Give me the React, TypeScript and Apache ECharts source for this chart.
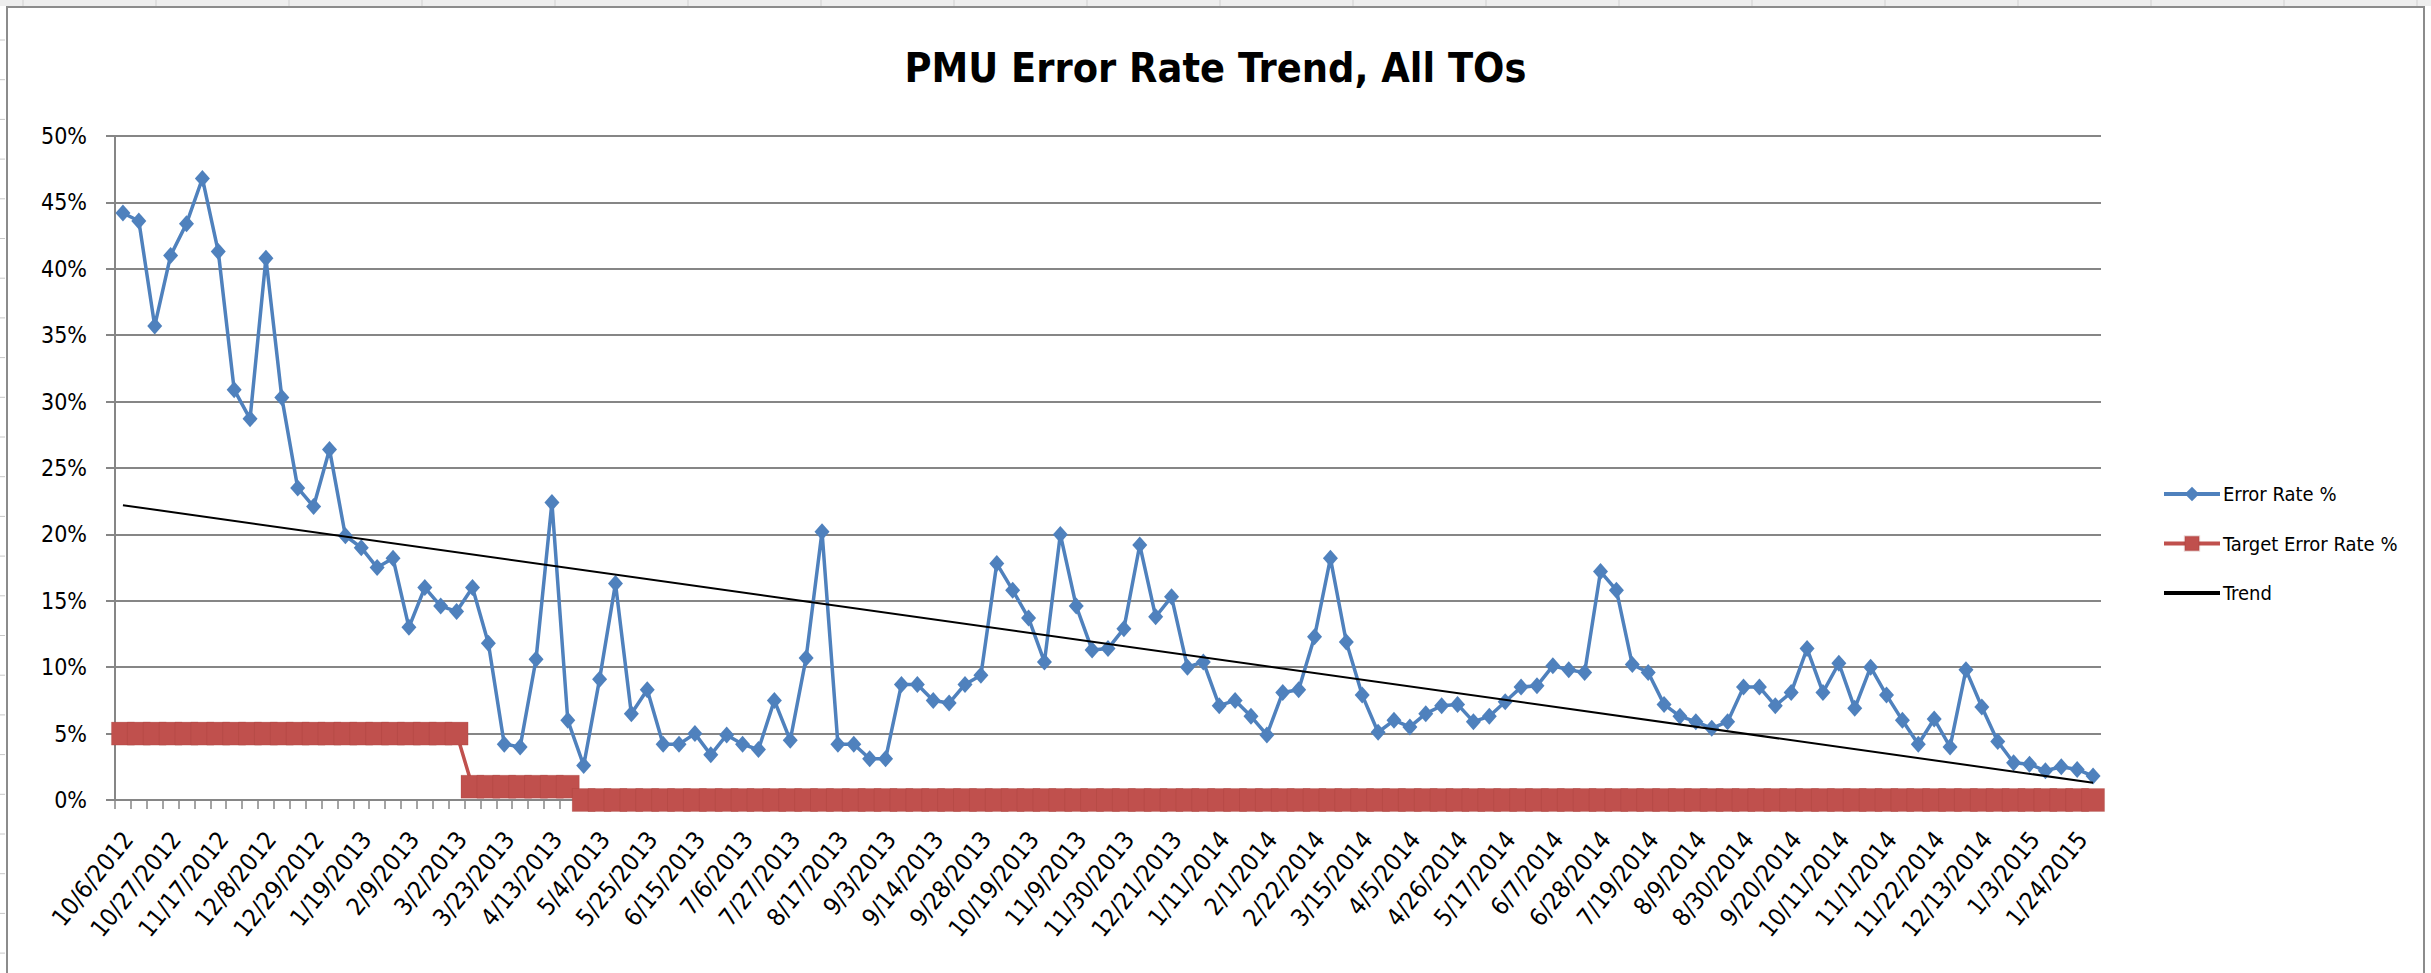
import React, { useEffect, useRef } from "react";
import * as echarts from "echarts";

const categories: string[] = [
  "10/6/2012", "10/13/2012", "10/20/2012", "10/27/2012", "11/3/2012", "11/10/2012", "11/17/2012", "11/24/2012",
  "12/1/2012", "12/8/2012", "12/15/2012", "12/22/2012", "12/29/2012", "1/5/2013", "1/12/2013", "1/19/2013",
  "1/26/2013", "2/2/2013", "2/9/2013", "2/16/2013", "2/23/2013", "3/2/2013", "3/9/2013", "3/16/2013",
  "3/23/2013", "3/30/2013", "4/6/2013", "4/13/2013", "4/20/2013", "4/27/2013", "5/4/2013", "5/11/2013",
  "5/18/2013", "5/25/2013", "6/1/2013", "6/8/2013", "6/15/2013", "6/22/2013", "6/29/2013", "7/6/2013",
  "7/13/2013", "7/20/2013", "7/27/2013", "8/3/2013", "8/10/2013", "8/17/2013", "8/24/2013", "8/31/2013",
  "9/3/2013", "9/7/2013", "9/10/2013", "9/14/2013", "9/21/2013", "9/24/2013", "9/28/2013", "10/5/2013",
  "10/12/2013", "10/19/2013", "10/26/2013", "11/2/2013", "11/9/2013", "11/16/2013", "11/23/2013", "11/30/2013",
  "12/7/2013", "12/14/2013", "12/21/2013", "12/28/2013", "1/4/2014", "1/11/2014", "1/18/2014", "1/25/2014",
  "2/1/2014", "2/8/2014", "2/15/2014", "2/22/2014", "3/1/2014", "3/8/2014", "3/15/2014", "3/22/2014",
  "3/29/2014", "4/5/2014", "4/12/2014", "4/19/2014", "4/26/2014", "5/3/2014", "5/10/2014", "5/17/2014",
  "5/24/2014", "5/31/2014", "6/7/2014", "6/14/2014", "6/21/2014", "6/28/2014", "7/5/2014", "7/12/2014",
  "7/19/2014", "7/26/2014", "8/2/2014", "8/9/2014", "8/16/2014", "8/23/2014", "8/30/2014", "9/6/2014",
  "9/13/2014", "9/20/2014", "9/27/2014", "10/4/2014", "10/11/2014", "10/18/2014", "10/25/2014", "11/1/2014",
  "11/8/2014", "11/15/2014", "11/22/2014", "11/29/2014", "12/6/2014", "12/13/2014", "12/20/2014", "12/27/2014",
  "1/3/2015", "1/10/2015", "1/17/2015", "1/24/2015", "1/31/2015",
];

const errorRate: number[] = [
  44.2, 43.6, 35.7, 41.0, 43.4, 46.8, 41.3, 30.9, 28.7, 40.8,
  30.3, 23.5, 22.1, 26.4, 19.9, 19.0, 17.5, 18.2, 13.0, 16.0,
  14.6, 14.2, 16.0, 11.8, 4.2, 4.0, 10.6, 22.4, 6.0, 2.6,
  9.1, 16.3, 6.5, 8.3, 4.2, 4.2, 5.0, 3.4, 4.9, 4.2,
  3.8, 7.5, 4.5, 10.7, 20.2, 4.2, 4.2, 3.1, 3.1, 8.7,
  8.7, 7.5, 7.3, 8.7, 9.4, 17.8, 15.8, 13.7, 10.4, 20.0,
  14.6, 11.3, 11.4, 12.9, 19.2, 13.8, 15.3, 10.0, 10.4, 7.1,
  7.5, 6.3, 4.9, 8.1, 8.3, 12.3, 18.2, 11.9, 7.9, 5.1,
  6.0, 5.5, 6.5, 7.1, 7.2, 5.9, 6.3, 7.4, 8.5, 8.6,
  10.1, 9.8, 9.6, 17.2, 15.8, 10.2, 9.6, 7.2, 6.3, 5.9,
  5.4, 5.9, 8.5, 8.5, 7.1, 8.1, 11.4, 8.1, 10.3, 6.9,
  10.0, 7.9, 6.0, 4.2, 6.1, 4.0, 9.8, 7.0, 4.4, 2.8,
  2.7, 2.2, 2.5, 2.3, 1.8,
];

const targetRate: number[] = [
  5, 5, 5, 5, 5, 5, 5, 5, 5, 5,
  5, 5, 5, 5, 5, 5, 5, 5, 5, 5,
  5, 5, 1, 1, 1, 1, 1, 1, 1, 0,
  0, 0, 0, 0, 0, 0, 0, 0, 0, 0,
  0, 0, 0, 0, 0, 0, 0, 0, 0, 0,
  0, 0, 0, 0, 0, 0, 0, 0, 0, 0,
  0, 0, 0, 0, 0, 0, 0, 0, 0, 0,
  0, 0, 0, 0, 0, 0, 0, 0, 0, 0,
  0, 0, 0, 0, 0, 0, 0, 0, 0, 0,
  0, 0, 0, 0, 0, 0, 0, 0, 0, 0,
  0, 0, 0, 0, 0, 0, 0, 0, 0, 0,
  0, 0, 0, 0, 0, 0, 0, 0, 0, 0,
  0, 0, 0, 0, 0,
];

// Linear trend line: value at first and last category
const trendEnds: number[] = [22.2, 1.3];

const seriesNames: string[] = ["Error Rate %", "Target Error Rate %", "Trend"];
const titleText = "PMU Error Rate Trend, All TOs";

const FONT = "'DejaVu Sans Condensed', 'Liberation Sans Narrow', 'Liberation Sans', sans-serif";
const GRID_COLOR = "#868686";

function buildFrame(): any[] {
  const els: any[] = [];
  els.push({
    type: "rect",
    silent: true,
    shape: { x: 0, y: 0, width: 2431, height: 6 },
    style: { fill: "#EEEEEE" },
  });
  for (let x = 23; x < 2431; x += 133) {
    els.push({
      type: "line",
      silent: true,
      shape: { x1: x, y1: 0, x2: x, y2: 6 },
      style: { stroke: "#D0D0D0", lineWidth: 1 },
    });
  }
  for (let y = 40; y < 973; y += 39.7) {
    els.push({
      type: "line",
      silent: true,
      shape: { x1: 0, y1: y, x2: 5, y2: y },
      style: { stroke: "#C8C8C8", lineWidth: 1 },
    });
  }
  els.push({
    type: "rect",
    silent: true,
    shape: { x: 7, y: 7, width: 2417, height: 990 },
    style: { fill: "none", stroke: "#8C8C8C", lineWidth: 2 },
  });
  return els;
}

export default function App() {
  const ref = useRef<HTMLDivElement>(null);
  useEffect(() => {
    if (!ref.current) return;
    const chart = echarts.init(ref.current, null, { renderer: "svg" });
    const lastIdx = categories.length - 1;
    const option: any = {
      animation: false,
      backgroundColor: "#ffffff",
      title: {
        text: titleText,
        left: "center",
        top: 42,
        textStyle: { fontFamily: FONT, fontWeight: "bold", fontSize: 41, color: "#000" },
      },
      legend: {
        orient: "vertical",
        left: 2157,
        top: 479,
        itemWidth: 56,
        itemHeight: 18,
        itemGap: 29.5,
        data: seriesNames,
        lineStyle: { width: 4 },
        textStyle: { fontFamily: FONT, fontSize: 20, color: "#000", lineHeight: 20, padding: [0, 0, 0, -2] },
      },
      grid: { left: 115, right: 330, top: 136, bottom: 173, containLabel: false },
      xAxis: {
        type: "category",
        data: categories,
        boundaryGap: true,
        axisLine: { show: true, lineStyle: { color: GRID_COLOR, width: 2 } },
        axisTick: { show: true, interval: 0, length: 9, lineStyle: { color: GRID_COLOR, width: 1.5 } },
        axisLabel: {
          interval: 2,
          rotate: 51,
          fontFamily: FONT,
          fontSize: 24.5,
          color: "#000",
          margin: 41,
          padding: [0, -8, 0, 0],
        },
        splitLine: { show: false },
      },
      yAxis: {
        type: "value",
        min: 0,
        max: 50,
        interval: 5,
        axisLine: { show: true, lineStyle: { color: GRID_COLOR, width: 2 } },
        axisTick: { show: true, length: 9, lineStyle: { color: GRID_COLOR, width: 2 } },
        axisLabel: { formatter: "{value}%", fontFamily: FONT, fontSize: 23, color: "#000", margin: 28 },
        splitLine: { show: true, lineStyle: { color: GRID_COLOR, width: 2 } },
      },
      series: [
        {
          name: seriesNames[0],
          type: "line",
          data: errorRate,
          showSymbol: true,
          showAllSymbol: true,
          symbol: "diamond",
          symbolSize: [15, 17],
          lineStyle: { color: "#4F81BD", width: 3.5 },
          itemStyle: { color: "#4F81BD" },
          z: 2,
        },
        {
          name: seriesNames[1],
          type: "line",
          data: targetRate,
          showSymbol: true,
          showAllSymbol: true,
          symbol: "rect",
          symbolSize: 23,
          lineStyle: { color: "#C0504D", width: 3.5 },
          itemStyle: { color: "#C0504D", borderColor: "rgba(150,55,52,0.2)", borderWidth: 1 },
          z: 3,
        },
        {
          name: seriesNames[2],
          type: "line",
          data: [
            [0, trendEnds[0]],
            [lastIdx, trendEnds[1]],
          ],
          symbol: "none",
          lineStyle: { color: "#000", width: 2 },
          itemStyle: { color: "rgba(0,0,0,0)", borderWidth: 0 },
          z: 4,
        },
      ],
      graphic: buildFrame(),
    };
    chart.setOption(option);
    return () => chart.dispose();
  }, []);
  return (
    <div
      ref={ref}
      style={{ position: "fixed", left: 0, top: 0, width: 2431, height: 973, background: "#fff" }}
    />
  );
}
